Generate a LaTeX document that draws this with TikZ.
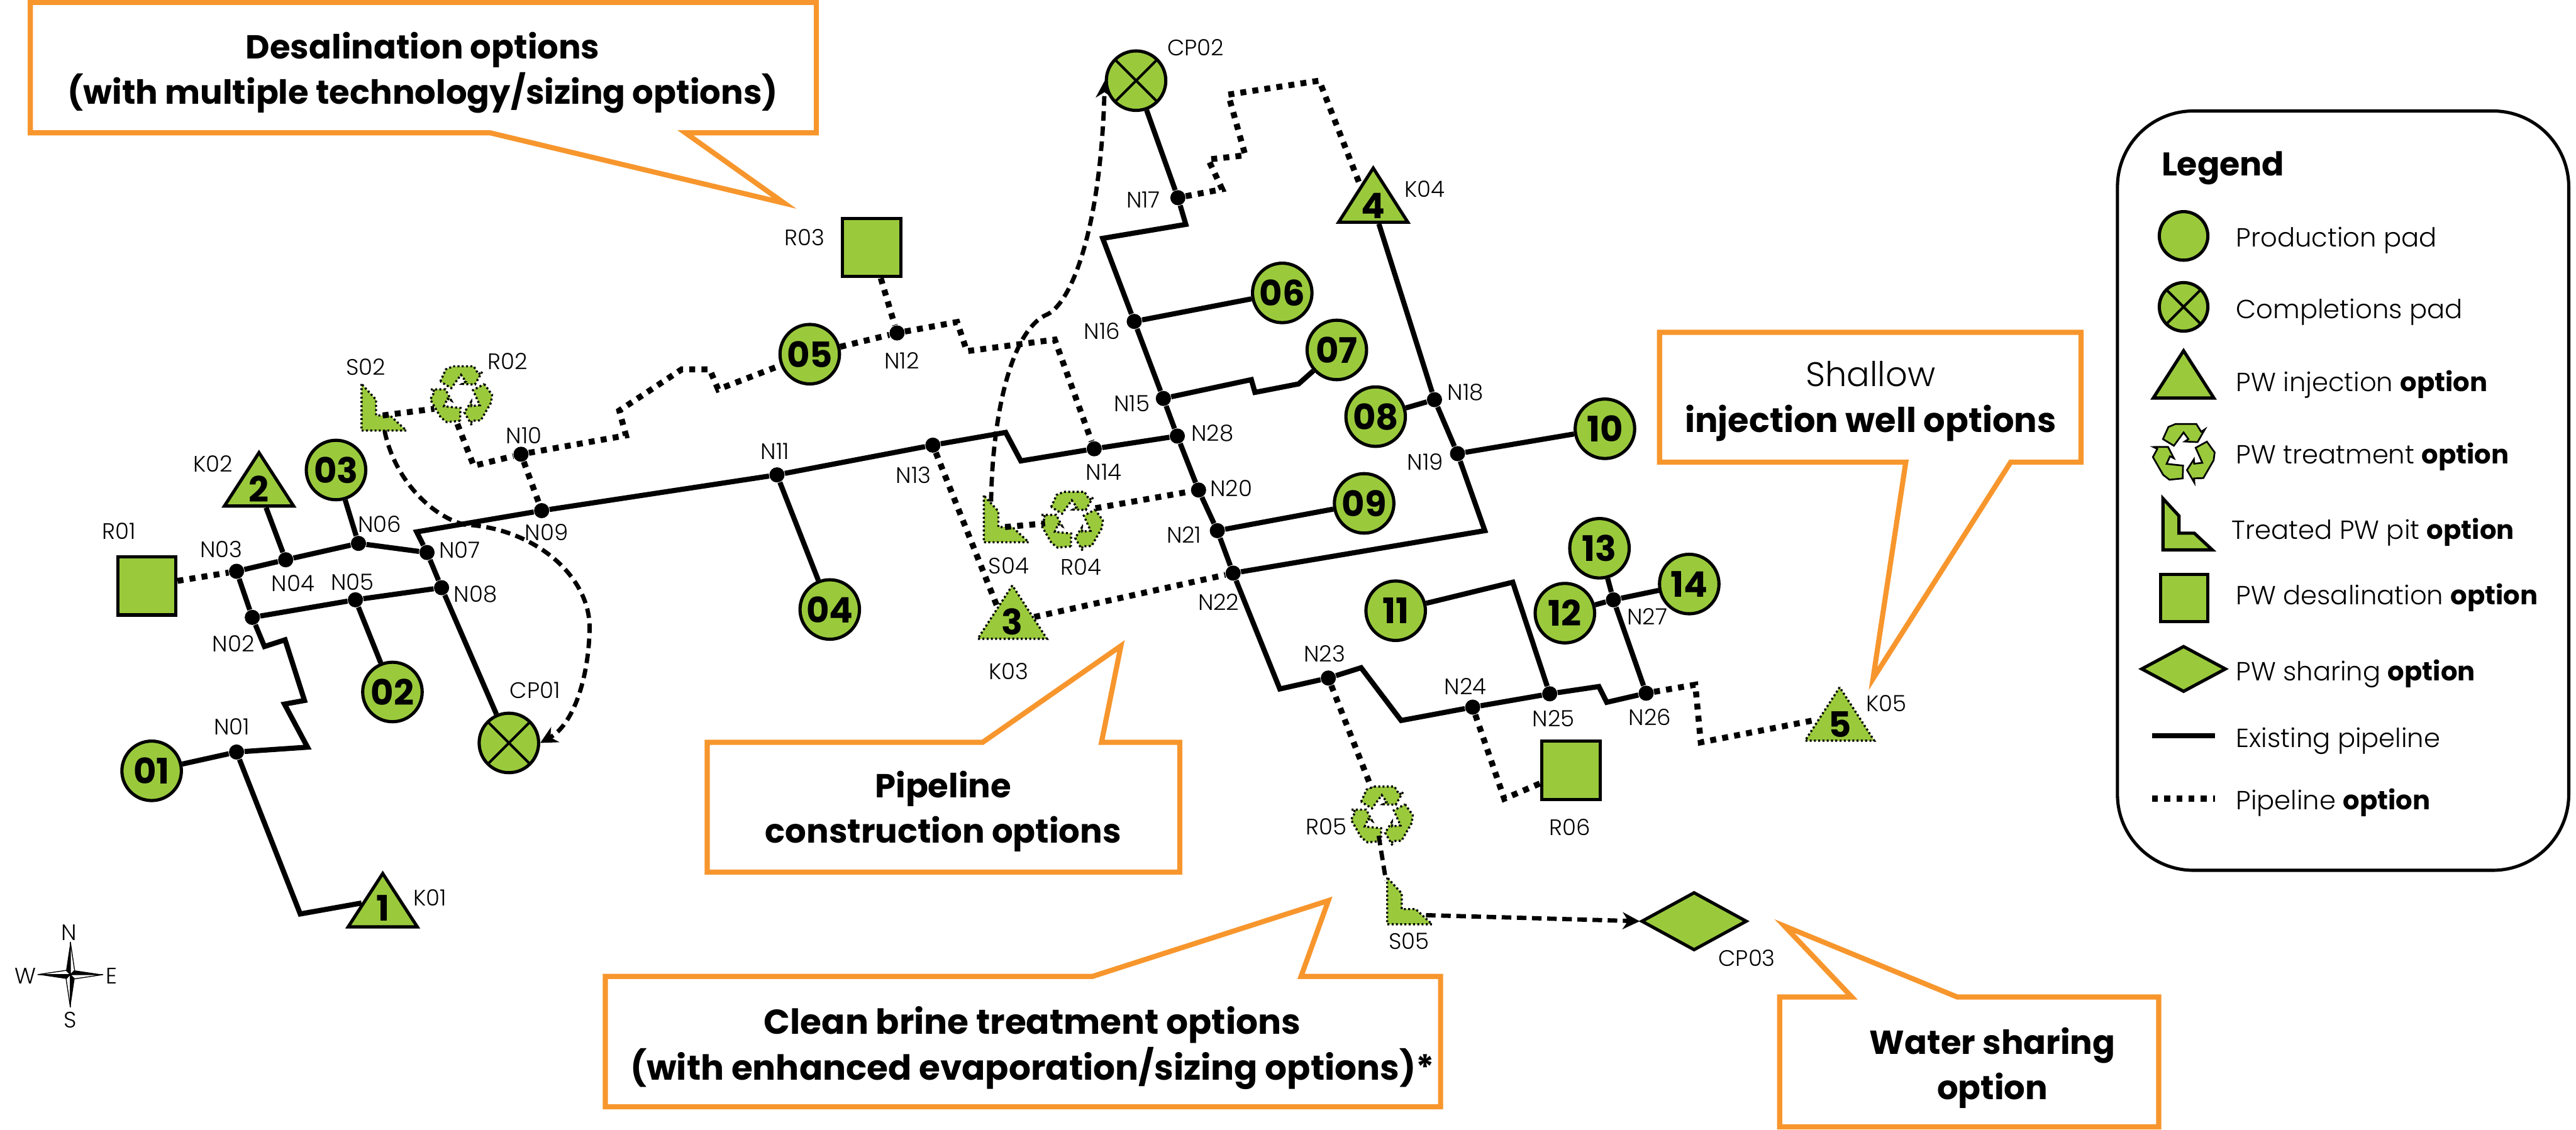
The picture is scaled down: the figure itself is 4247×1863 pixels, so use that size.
\documentclass[tikz,border=0pt]{standalone}
\usepackage{fontspec}
\setmainfont{Poppins Light}[BoldFont={Poppins Bold}]
\usetikzlibrary{arrows.meta,shapes.geometric}
\definecolor{padgreen}{HTML}{9ACA3C}
\definecolor{calloutorange}{HTML}{F7962D}
\begin{document}
\begin{tikzpicture}[x=.01cm,y=-.01cm,>={Stealth[length=8pt,width=8pt]}]
  \tikzset{
    tag/.style={font=\fontsize{10.5}{12}\selectfont,inner sep=0pt,yshift=-.5pt},
    junc/.style={circle,fill=black,minimum size=.25cm,inner sep=0pt},
    shp/.style={draw,line width=1.5pt,fill=padgreen},
    optline/.style={draw,line width=1pt,dash pattern=on .9pt off 1.1pt,fill=padgreen},
    pad/.style={shp,circle,minimum size=.98cm,inner sep=0pt,font=\fontsize{16.5}{18}\selectfont\bfseries},
    xpad/.style={pad,path picture={
      \draw[line width=1.2pt] (path picture bounding box.north west) -- (path picture bounding box.south east);
      \draw[line width=1.2pt] (path picture bounding box.north east) -- (path picture bounding box.south west);}},
    inj/.style={isosceles triangle,isosceles triangle stretches,shape border rotate=90,
      minimum width=1.14cm,minimum height=.88cm,inner sep=0pt,anchor=lower side,font=\fontsize{16.5}{18}\selectfont\bfseries},
    desal/.style={shp,minimum width=.96cm,minimum height=.96cm,inner sep=0pt},
    share/.style={shp,diamond,minimum width=1.74cm,minimum height=.96cm,inner sep=0pt},
    pipe/.style={line width=2.4pt,line join=miter},
    optpipe/.style={line width=2.8pt,dash pattern=on 2.8pt off 2.9pt},
    dashpipe/.style={line width=2pt,dash pattern=on 4.5pt off 2.6pt},
    callout/.style={draw=calloutorange,line width=2.4pt,miter limit=25,fill=white},
    ctext/.style={font=\fontsize{15.6}{21.4}\selectfont\bfseries,align=center,inner sep=0pt,yshift=-1.4pt},
    legtext/.style={font=\fontsize{12.3}{14}\selectfont,anchor=west,inner sep=0pt,yshift=-1.8pt},
    pitsym/.pic={
      \draw[#1] (0,0) -- (0,77) -- (74,77) -- (47,52) -- (24,52) -- (24,26) -- cycle;
      \coordinate (-top) at (12,10);
      \coordinate (-bot) at (38,77);
      \coordinate (-in) at (35,52);
      \coordinate (-out) at (64,62);
    },
    recsym/.pic={
      \foreach \r in {0,120,240}
        \draw[#1,rotate=\r] (-35,-23) -- (-26,-43) -- (-14,-48) -- (20,-48) -- (28,-35) -- (34,-39)
          -- (22,-18) -- (1,-19) -- (7,-23) -- (-1,-34) -- (-17,-12) -- cycle;
    }
  }
  \useasboundingbox (0,0) rectangle (4247,1863);

  \foreach \n/\x/\y in {01/250/1271,02/647/1141,03/554/775,04/1368/1005,05/1335/584,06/2114/483,
    07/2204/577,08/2268/687,09/2249/830,10/2646/707,11/2301/1007,12/2580/1011,13/2637/904,14/2785/963}
    \node[pad] (P\n) at (\x,\y) {\n};
  \node[xpad] (CP01) at (839,1225) {};
  \node[xpad] (CP02) at (1873,133) {};

  \foreach \n/\x/\y/\lx/\ly in {N01/390/1240/382/1196,N02/416/1018/385/1060,N03/390/942/365/904,
    N04/471/923/483/960,N05/586/989/581/958,N06/591/896/626/862,N07/704/911/758/905,N08/728/969/784/978,
    N09/893/842/901/876,N10/859/749/864/716,N11/1281/783/1278/742,N12/1479/549/1487/593,N13/1538/734/1506/782,
    N14/1804/740/1820/777,N15/1918/657/1866/664,N16/1870/530/1817/544,N17/1942/326/1885/328,N18/2365/659/2416/645,
    N19/2403/748/2350/760,N20/1976/808/2030/803,N21/2007/875/1952/880,N22/2033/945/2009/991,N23/2190/1118/2184/1076,
    N24/2428/1166/2416/1130,N25/2555/1144/2561/1183,N26/2714/1143/2720/1181,N27/2660/989/2716/1015,N28/1941/719/1999/713}
  {
    \node[junc] (\n) at (\x,\y) {};
    \node[tag] (l\n) at (\lx,\ly) {\n};
  }

  \node[shp,inj] (K01) at (631,1531) {1};
  \node[shp,inj] (K02) at (427,837) {2};
  \node[optline,inj] (K03) at (1669,1055) {3};
  \node[shp,inj] (K04) at (2264,369) {4};
  \node[optline,inj] (K05) at (3033,1223) {5};
  \node[desal] (R01) at (242,966) {};
  \node[desal] (R03) at (1437,408) {};
  \node[desal] (R06) at (2590,1270) {};
  \node[share] (CP03) at (2793,1519) {};
  \pic (S02) at (596,633) {pitsym=optline};
  \pic (S04) at (1622,817) {pitsym=optline};
  \pic (S05) at (2287,1447) {pitsym=optline};
  \pic (R02) at (761,652) {recsym=optline};
  \pic (R04) at (1768,859) {recsym=optline};
  \pic (R05) at (2279,1345) {recsym=optline};

  \foreach \n/\x/\y in {K01/709/1478,K02/351/763,K03/1663/1105,K04/2349/310,K05/3110/1158,
    R01/196/874,R02/837/594,R03/1327/390,R04/1782/933,R05/2187/1361,R06/2588/1362,
    S02/603/603,S04/1663/931,S05/2323/1550,CP01/882/1136,CP02/1971/77,CP03/2880/1578}
    \node[tag] (t\n) at (\x,\y) {\n};

  \draw[pipe] (P01) -- (N01) -- (507,1232) -- (469,1161) -- (502,1155) -- (470,1055) -- (436,1066) -- (N02);
  \draw[pipe] (N01) -- (495,1507) -- (596,1489);
  \draw[pipe] (N02) -- (N03) -- (N04) -- (N06) -- (N07) -- (N08) -- (CP01);
  \draw[pipe] (N02) -- (N05) -- (N08);
  \draw[pipe] (N04) -- (K02);
  \draw[pipe] (N06) -- (P03);
  \draw[pipe] (N05) -- (P02);
  \draw[pipe] (N07) -- (687,877) -- (N09) -- (N11) -- (N13) -- (1658,713) -- (1683,760) -- (N14) -- (N28);
  \draw[pipe] (N11) -- (P04);
  \draw[pipe] (CP02) -- (N17) -- (1955,370) -- (1818,393) -- (N16) -- (N15) -- (N28) -- (N20) -- (N21) -- (N22) -- (2110,1136) -- (N23) -- (2244,1101) -- (2310,1188) -- (N24) -- (N25) -- (2636,1132) -- (2649,1158) -- (N26) -- (N27);
  \draw[pipe] (N16) -- (P06);
  \draw[pipe] (N15) -- (2063,626) -- (2069,647) -- (2141,633) -- (P07);
  \draw[pipe] (N21) -- (P09);
  \draw[pipe] (N22) -- (2448,875) -- (N19) -- (N18) -- (K04);
  \draw[pipe] (N18) -- (P08);
  \draw[pipe] (N19) -- (P10);
  \draw[pipe] (P11) -- (2494,960) -- (N25);
  \draw[pipe] (P12) -- (N27) -- (P14);
  \draw[pipe] (P13) -- (N27);

  \draw[optpipe] (R01) -- (N03);
  \draw[optpipe] (S02-in) -- (716,674);
  \draw[optpipe] (754,699) -- (781,768) -- (N10) -- (1032,718) -- (1021,677) -- (1124,609) -- (1170,609) -- (1184,642) -- (P05);
  \draw[optpipe] (N10) -- (N09);
  \draw[optpipe] (P05) -- (N12) -- (1578,531) -- (1594,579) -- (1739,560) -- (N14);
  \draw[optpipe] (R03) -- (N12);
  \draw[optpipe] (N13) -- (1644,1000);
  \draw[optpipe] (K03) -- (N22);
  \draw[optpipe] (S04-in) -- (1723,863);
  \draw[optpipe] (1806,838) -- (N20);
  \draw[optpipe] (N17) -- (2015,312) -- (1992,263) -- (2053,256) -- (2025,156) -- (2175,133) -- (2241,302);
  \draw[optpipe] (N23) -- (2261,1299);
  \draw[optpipe] (N24) -- (2480,1317) -- (R06);
  \draw[optpipe] (N26) -- (2795,1129) -- (2804,1224) -- (2994,1187);
  \draw[dashpipe] (2273,1378) -- (2285,1452);

  \draw[dashpipe,->] (S02-bot) .. controls (650,790) and (710,850) .. (765,865) .. controls (880,870) and (975,950) .. (972,1039) .. controls (970,1120) and (945,1195) .. (CP01.east);
  \draw[dashpipe,->] (S04-top) .. controls (1636,690) and (1665,550) .. (1723,520) .. controls (1765,505) and (1815,380) .. (CP02.west);
  \draw[dashpipe,->] (S05-out) -- (2530,1514) -- (CP03.west);

  \draw[callout] (50,4) -- (1346,4) -- (1346,219) -- (1130,219) -- (1293,335) -- (808,219) -- (50,219) -- cycle;
  \node[ctext] (cDesal) at (697,115) {Desalination options\\(with multiple technology/sizing options)};
  \draw[callout] (2736,548) -- (3431,548) -- (3431,762) -- (3315,762) -- (3088,1119) -- (3142,762) -- (2736,762) -- cycle;
  \node[ctext,font=\fontsize{16}{21.4}\selectfont\bfseries] (cShallow) at (3084,657) {\mdseries Shallow\\injection well options};
  \draw[callout] (1166,1224) -- (1620,1224) -- (1848,1065) -- (1816,1224) -- (1945,1224) -- (1945,1438) -- (1166,1438) -- cycle;
  \node[ctext] (cPipe) at (1555,1333) {Pipeline\\construction options};
  \draw[callout] (998,1610) -- (1801,1610) -- (2190,1485) -- (2145,1610) -- (2375,1610) -- (2375,1825) -- (998,1825) -- cycle;
  \node[ctext,font=\fontsize{16.2}{21.4}\selectfont\bfseries] (cBrine) at (1702,1723) {Clean brine treatment options\\(with enhanced evaporation/sizing options)*};
  \draw[callout] (2934,1644) -- (3053,1644) -- (2942,1527) -- (3227,1644) -- (3559,1644) -- (3559,1858) -- (2934,1858) -- cycle;
  \node[ctext] (cWater) at (3285,1756) {Water sharing\\option};

  \foreach \r in {0,90,180,270} {
    \fill[black,rotate around={\r:(116,1607)}] (116,1607) -- (116,1553) -- (109,1600) -- cycle;
    \draw[line width=.4pt,fill=white,rotate around={\r:(116,1607)}] (116,1607) -- (116,1553) -- (123,1600) -- cycle;
  }
  \node[tag] (cN) at (114,1536) {N};
  \node[tag] (cS) at (116,1680) {S};
  \node[tag] (cW) at (42,1607) {W};
  \node[tag] (cE) at (184,1607) {E};

  \draw[line width=1.5pt,rounded corners=1.25cm] (3491,183) rectangle (4235,1435);
  \node[font=\fontsize{15.4}{17}\selectfont\bfseries,anchor=west,inner sep=0pt,yshift=-2pt] (lgHead) at (3563,270) {Legend};
  \node[shp,circle,minimum size=.8cm,inner sep=0pt] (lgPad) at (3600,389) {};
  \node[xpad,minimum size=.8cm] (lgCross) at (3600,506) {};
  \node[shp,inj,minimum width=1.0cm,minimum height=.78cm] (lgInj) at (3600,659) {};
  \pic (lgRec) at (3601,747) {recsym={shp,line width=.8pt}};
  \pic[scale=1.1] (lgPit) at (3566,822) {pitsym=shp};
  \node[desal,minimum width=.78cm,minimum height=.78cm] (lgDesal) at (3601,986) {};
  \node[share,minimum width=1.4cm,minimum height=.76cm] (lgShare) at (3600,1103) {};
  \coordinate (lgA) at (3548,1213);
  \coordinate (lgB) at (3652,1213);
  \coordinate (lgC) at (3548,1317);
  \coordinate (lgD) at (3652,1317);
  \draw[pipe] (lgA) -- (lgB);
  \draw[optpipe] (lgC) -- (lgD);
  \node[legtext] (tPad) at (3686,390) {Production pad};
  \node[legtext] (tCross) at (3686,508) {Completions pad};
  \node[legtext] (tInj) at (3686,628) {PW injection \textbf{option}};
  \node[legtext] (tRec) at (3686,747) {PW treatment \textbf{option}};
  \node[legtext] (tPit) at (3679,871) {Treated PW pit \textbf{option}};
  \node[legtext] (tDesal) at (3686,979) {PW desalination \textbf{option}};
  \node[legtext] (tShare) at (3686,1105) {PW sharing \textbf{option}};
  \node[legtext] (tPipe) at (3686,1215) {Existing pipeline};
  \node[legtext] (tOpt) at (3686,1317) {Pipeline \textbf{option}};
\end{tikzpicture}
\end{document}
